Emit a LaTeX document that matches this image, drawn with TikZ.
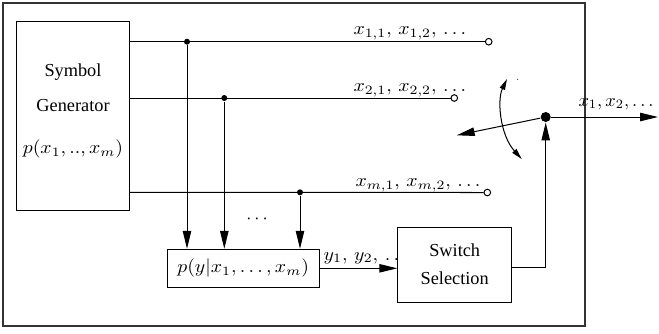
\documentclass[tikz,border=0pt]{standalone}
\usepackage{fontspec}
\setmainfont{Liberation Serif}
\usetikzlibrary{arrows.meta}
\def\u{0.5463pt}
\newcommand{\wmath}[1]{\scalebox{1.08}[1]{$#1$}}
\begin{document}
\begin{tikzpicture}[x=\u, y=-\u, line width=0.55pt,
  blk/.style={draw, fill=white, inner sep=0pt, align=center},
  jdot/.style={circle, fill, inner sep=0pt, minimum size=6*\u},
  hubdot/.style={circle, fill, inner sep=0pt, minimum size=10*\u},
  term/.style={circle, draw, fill=white, inner sep=0pt, minimum size=6.6*\u},
  arr/.style={-{Triangle[length=9.8pt,width=4.6pt]}},
  sarr/.style={{Triangle[length=6pt,width=3pt]}-{Triangle[length=6pt,width=3pt]}},
  lbl/.style={inner sep=0pt, anchor=west}]
\useasboundingbox (0,0) rectangle (659,333);
% outer frame
\draw[line width=0.7pt, black!80] (3,3) rectangle (585,326);
% blocks
\node[blk, minimum width=113.4*\u, minimum height=189*\u] (SG) at (73,116.2) {};
\node at (73,72) {Symbol};
\node at (73,106) {Generator};
\node at (73,149) {\wmath{p(x_1,..,x_m)}};
\node[blk, minimum width=151.7*\u, minimum height=38*\u] (P) at (243.15,268.3) {\wmath{p(y|x_1,\ldots,x_m)}};
% junctions and terminals
\node[jdot] (j1) at (187,41.7) {};
\node[jdot] (j2) at (224.3,98) {};
\node[jdot] (jm) at (300,192.3) {};
\node[term] (e1) at (488.7,41.7) {};
\node[term] (e2) at (454.3,98) {};
\node[term] (em) at (487.3,192.5) {};
% labels on lines
\node[lbl] (l1) at (353,33) {\wmath{x_{1,1},\,x_{1,2},\,\ldots}};
\node[lbl] (l2) at (353,90) {\wmath{x_{2,1},\,x_{2,2},\,\ldots}};
\node[lbl] (lm) at (355,185) {\wmath{x_{m,1},\,x_{m,2},\,\ldots}};
% lines
\draw (SG.east |- j1) -- (e1.west);
\draw (SG.east |- j2) -- (e2.west);
\draw (SG.east |- jm) -- (em.west);
\draw[arr] (j1) -- (j1 |- P.north);
\draw[arr] (j2) -- (j2 |- P.north);
\draw[arr] (jm) -- (jm |- P.north);
\node (dd) at (257,219) {$\cdots$};
% y sequence
\node[lbl] (ly) at (323,258) {\wmath{y_1,\,y_2,\,\ldots}};
\node[blk, minimum width=114*\u, minimum height=75.4*\u] (S) at (454.7,265) {};
\node at (454.7,250.7) {Switch};
\node at (454.7,278.3) {Selection};
\draw[arr] (P.east) -- (P.east -| S.west);
% switch
\node[hubdot] (hub) at (545.7,117) {};
\coordinate (corner) at (545.7,267.7);
\draw[arr] (S.east |- corner) -- (corner) -- (hub.south);
\coordinate (armend) at (456.7,135.3);
\draw[arr] (hub) -- (armend);
\coordinate (outend) at (658,117);
\draw[arr] (hub) -- (outend);
\node[inner sep=0pt, anchor=east] (lx) at (654,104) {$x_1,x_2,\ldots$};
\coordinate (ct) at (507,79);
\coordinate (cb) at (521.7,159);
\draw[sarr] (ct) .. controls (497,100) and (500,135) .. (cb);
\fill (517.7,79.3) circle[radius=0.5*\u];
\end{tikzpicture}
\end{document}
